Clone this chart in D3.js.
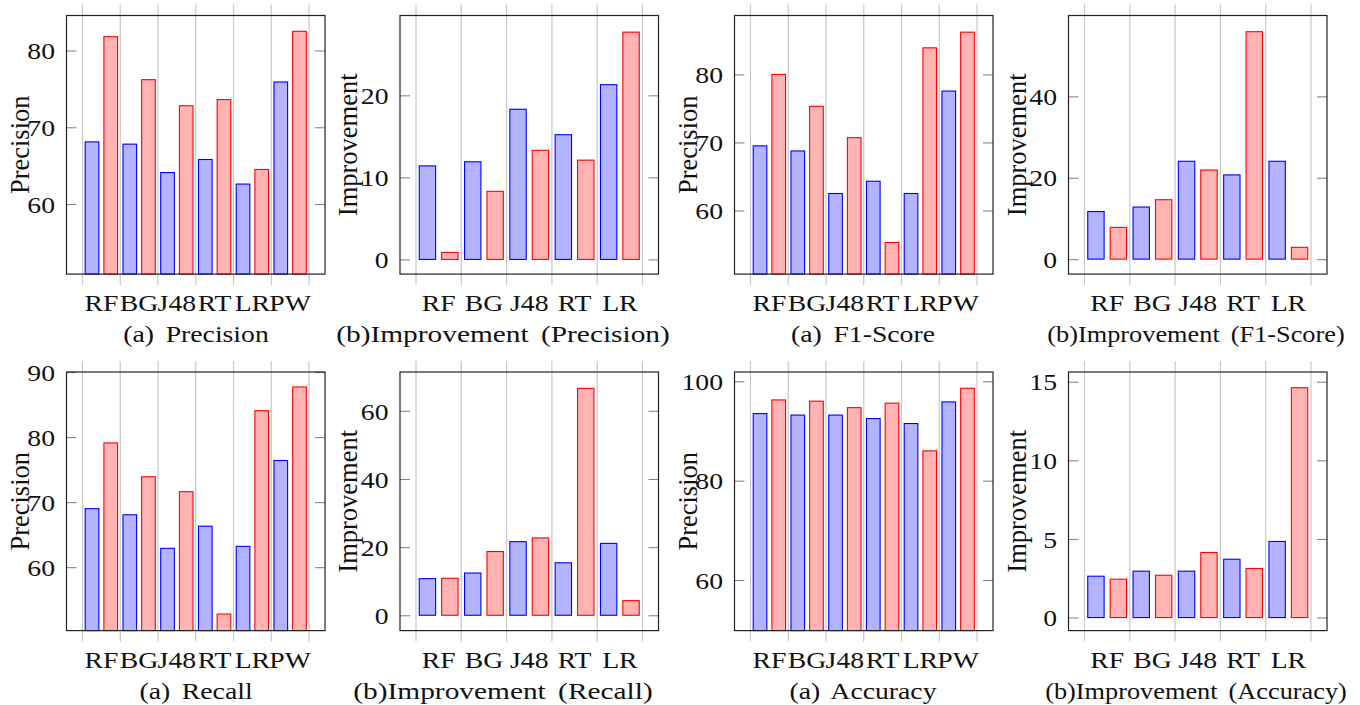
<!DOCTYPE html>
<html><head><meta charset="utf-8">
<script src="https://cdn.jsdelivr.net/npm/d3@7"></script>
<style>
body{margin:0;background:#fff}
text{font-family:"Liberation Serif","Times New Roman",serif;fill:#111}
</style></head><body><svg id="c" width="1360" height="705"></svg>
<script>
// ---- data ----
const catsA = ["RF","BG","J48","RT","LR","PW"];
const catsB = ["RF","BG","J48","RT","LR"];

const precisionBlue = [68.1, 67.8, 64.1, 65.8, 62.6, 75.9];
const precisionRed  = [81.8, 76.2, 72.8, 73.6, 64.5, 82.5];
const precImpBlue   = [11.4, 11.9, 18.3, 15.2, 21.3];
const precImpRed    = [0.85, 8.3, 13.3, 12.1, 27.7];

const f1Blue    = [69.5, 68.75, 62.5, 64.3, 62.5, 77.55];
const f1Red     = [80.0, 75.3, 70.7, 55.3, 83.9, 86.2];
const f1ImpBlue = [11.7, 12.8, 24.05, 20.7, 24.05];
const f1ImpRed  = [7.8, 14.6, 21.9, 55.9, 2.9];

const recallBlue = [69.0, 68.05, 62.9, 66.3, 63.2, 76.4];
const recallRed  = [79.1, 73.9, 71.6, 52.8, 84.05, 87.7];
const recImpBlue = [10.75, 12.4, 21.6, 15.4, 21.1];
const recImpRed  = [10.85, 18.7, 22.7, 66.6, 4.3];

const accBlue    = [93.5, 93.2, 93.2, 92.5, 91.5, 95.85];
const accRed     = [96.25, 96.0, 94.7, 95.6, 86.0, 98.6];
const accImpBlue = [2.63, 2.95, 2.95, 3.71, 4.84];
const accImpRed  = [2.44, 2.69, 4.14, 3.12, 14.62];

// axis ranges and tick labels
const precDomain = [50.87, 84.56],  precTicks = [60, 70, 80];
const precImpDomain = [-1.79, 29.73], precImpTicks = [0, 10, 20];
const f1Domain = [50.66, 88.65],    f1Ticks = [60, 70, 80];
const f1ImpDomain = [-3.68, 59.88], f1ImpTicks = [0, 20, 40];
const recDomain = [50.25, 90.0],    recTicks = [60, 70, 80, 90];
const recImpDomain = [-4.5, 71.4],  recImpTicks = [0, 20, 40, 60];
const accDomain = [49.83, 101.87],  accTicks = [60, 80, 100];
const accImpDomain = [-0.83, 15.62], accImpTicks = [0, 5, 10, 15];

const yLabels = ["Precision", "Improvement"];
const captions = ["(a) Precision", "(b)Improvement (Precision)", "(a) F1-Score", "(b)Improvement (F1-Score)",
                  "(a) Recall", "(b)Improvement (Recall)", "(a) Accuracy", "(b)Improvement (Accuracy)"];

// ---- layout ----
const colX = [66.5, 400, 734.5, 1068.5];
const rowY = [15.5, 372];
const PW = 258.5, PH = 258.6;
const SX = 1.18;      // horizontal stretch of the text
const FS = 23.5;
const capCX = [196, 503, 863, 1196];
const capSX = [1.18, 1.25, 1.18, 1.12];

const panels = [
  {c:0,r:0,cats:catsA,b:precisionBlue,rd:precisionRed,dom:precDomain,ticks:precTicks,yl:yLabels[0],cap:captions[0]},
  {c:1,r:0,cats:catsB,b:precImpBlue,rd:precImpRed,dom:precImpDomain,ticks:precImpTicks,yl:yLabels[1],cap:captions[1]},
  {c:2,r:0,cats:catsA,b:f1Blue,rd:f1Red,dom:f1Domain,ticks:f1Ticks,yl:yLabels[0],cap:captions[2]},
  {c:3,r:0,cats:catsB,b:f1ImpBlue,rd:f1ImpRed,dom:f1ImpDomain,ticks:f1ImpTicks,yl:yLabels[1],cap:captions[3]},
  {c:0,r:1,cats:catsA,b:recallBlue,rd:recallRed,dom:recDomain,ticks:recTicks,yl:yLabels[0],cap:captions[4]},
  {c:1,r:1,cats:catsB,b:recImpBlue,rd:recImpRed,dom:recImpDomain,ticks:recImpTicks,yl:yLabels[1],cap:captions[5]},
  {c:2,r:1,cats:catsA,b:accBlue,rd:accRed,dom:accDomain,ticks:accTicks,yl:yLabels[0],cap:captions[6]},
  {c:3,r:1,cats:catsB,b:accImpBlue,rd:accImpRed,dom:accImpDomain,ticks:accImpTicks,yl:yLabels[1],cap:captions[7]},
];

const svg = d3.select("#c");
svg.append("rect").attr("width",1360).attr("height",705).attr("fill","#fff");

panels.forEach(p => {
  const L = colX[p.c], T = rowY[p.r], R = L + PW, B = T + PH;
  const g = svg.append("g");
  const x = d3.scaleBand().domain(p.cats).range([L + 16, R - 16]).paddingInner(0).paddingOuter(0);
  const xs = d3.scaleBand().domain(["blue","red"]).range([0, x.bandwidth()]).paddingInner(0.27).paddingOuter(0.145);
  const y = d3.scaleLinear().domain(p.dom).range([B, T]);

  // vertical grid lines at band boundaries
  const bounds = p.cats.map(c => x(c)).concat([x(p.cats[p.cats.length-1]) + x.bandwidth()]);
  g.selectAll("line.grid").data(bounds).join("line")
    .attr("x1", d => d).attr("x2", d => d).attr("y1", T - 11).attr("y2", B + 11)
    .attr("stroke", "#c8c8c8").attr("stroke-width", 1.2);

  // bars
  const base = y(Math.max(0, p.dom[0]));
  const series = [{k:"blue", v:p.b, fill:"#b3b3ff", stroke:"#0000ff"}, {k:"red", v:p.rd, fill:"#ffb3b3", stroke:"#ff0000"}];
  series.forEach(s => {
    g.selectAll(null).data(p.cats.map((c,i)=>({c, v:s.v[i]}))).join("rect")
      .attr("x", d => x(d.c) + xs(s.k)).attr("width", xs.bandwidth())
      .attr("y", d => y(d.v)).attr("height", d => base - y(d.v))
      .attr("fill", s.fill).attr("stroke", s.stroke).attr("stroke-width", 1.1);
  });

  // y axes (ticks inside on both sides)
  const ya = g.append("g").attr("transform", `translate(${L},0)`)
    .call(d3.axisLeft(y).tickValues(p.ticks).tickSize(-10).tickPadding(11.5 / SX).tickFormat(d3.format("d")));
  ya.select(".domain").remove();
  ya.selectAll("line").attr("stroke", "#888").attr("stroke-width", 1.1);
  ya.selectAll("text").attr("transform", `scale(${SX},1)`).style("font-size", FS + "px")
    .attr("font-family", null).attr("fill", "#111").attr("dy", "0.35em");
  const yr = g.append("g").attr("transform", `translate(${R},0)`)
    .call(d3.axisRight(y).tickValues(p.ticks).tickSize(-10).tickFormat(""));
  yr.select(".domain").remove();
  yr.selectAll("line").attr("stroke", "#888").attr("stroke-width", 1.1);

  // x axis labels
  const xa = g.append("g").attr("transform", `translate(0,${B})`)
    .call(d3.axisBottom(x).tickSize(0));
  xa.select(".domain").remove();
  xa.selectAll("text").attr("y", 37).attr("dy", 0).attr("transform", `scale(${SX},1)`)
    .style("font-size", FS + "px").attr("font-family", null).attr("fill", "#111");

  // frame
  g.append("rect").attr("x", L).attr("y", T).attr("width", PW).attr("height", PH)
    .attr("fill", "none").attr("stroke", "#222").attr("stroke-width", 1.2);

  // y label
  const ylx = L - (p.c % 2 === 0 ? 38 : 43);
  g.append("text").attr("transform", `translate(${ylx},${(T+B)/2}) rotate(-90)`)
    .attr("text-anchor", "middle").style("font-size", "26.5px").text(p.yl);

  // caption
  g.append("text").attr("transform", `translate(${capCX[p.c]},${B + 68}) scale(${capSX[p.c]},1)`)
    .attr("text-anchor", "middle").style("font-size", FS + "px").style("word-spacing", "4px").text(p.cap);
});
</script></body></html>
